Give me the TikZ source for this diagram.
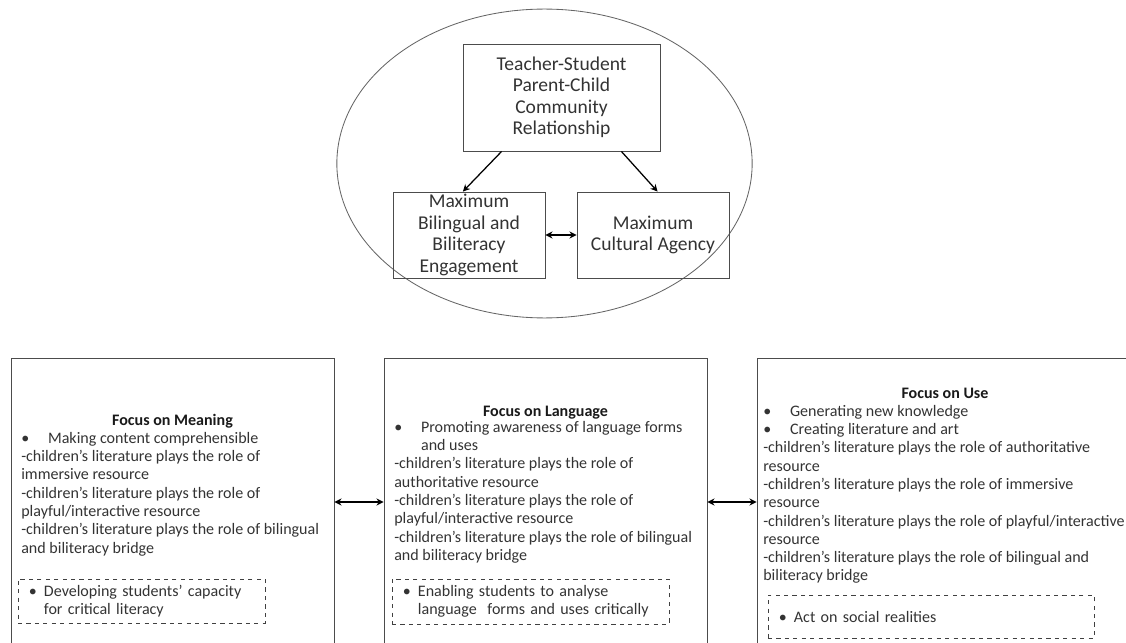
\documentclass[tikz,border=0pt]{standalone}
\usepackage{fontspec}
\setmainfont{Carlito}
\usetikzlibrary{arrows.meta}

\tikzset{
  box/.style={draw=black!70, line width=0.6pt, inner sep=0pt, align=center,
    font=\fontsize{13.9}{15.3}\selectfont, text=black!80},
  bigbox/.style={draw=black!70, line width=0.6pt, inner sep=0pt, minimum height=7.2cm},
  dbox/.style={draw=black!75, dashed, line width=0.6pt, inner sep=0pt, align=left,
    font=\fontsize{11.4}{13}\selectfont, text=black!80},
  head/.style={font=\fontsize{11.4}{13}\selectfont\bfseries, text=black!90, inner sep=0pt},
  body/.style={font=\fontsize{11.4}{13}\selectfont, align=left, inner sep=0pt,
    anchor=north west, text=black!80},
  link/.style={-{Stealth[length=5pt,width=5pt]}, line width=0.9pt},
  twoway/.style={{Stealth[length=5pt,width=5pt]}-{Stealth[length=5pt,width=5pt]}, line width=0.9pt},
}
\newcommand{\bul}[1]{\makebox[0.67cm][l]{\textbullet}#1}
\newcommand{\dbul}[1]{\makebox[0.375cm][l]{\textbullet}#1}
\newcommand{\bulgap}[1]{\hspace*{#1}}

\begin{document}
\begin{tikzpicture}[x=0.025cm, y=-0.025cm]
  \useasboundingbox (0,0) rectangle (1126,643);

  % upper part
  \draw[draw=black!60, line width=0.6pt] (544.5,163.5) ellipse [x radius=5.19cm, y radius=3.86cm];
  \node[box, minimum width=4.925cm, minimum height=2.675cm] (rel) at (561.5,97.5)
    {Teacher-Student\\Parent-Child\\Community\\Relationship};
  \node[box, minimum width=3.8cm, minimum height=2.15cm] (bil) at (469,235)
    {Maximum\\Bilingual and\\Biliteracy\\Engagement};
  \node[box, minimum width=3.8cm, minimum height=2.15cm] (cult) at (653,235)
    {Maximum\\Cultural Agency};
  \draw[link] (rel.222) -- (bil.98);
  \draw[link] (rel.318) -- (cult.84);
  \draw[twoway] (bil) -- (cult);

  % lower part
  \node[bigbox, minimum width=8.075cm] (meaning) at (172.5,502) {};
  \node[bigbox, minimum width=8.075cm] (language) at (545.5,502) {};
  \node[bigbox, minimum width=9.4cm] (use) at (945,502) {};
  \draw[twoway] (meaning) -- (language);
  \draw[twoway] (language) -- (use);

  \node[head] (meaninghead) at (172.5,421) {Focus on Meaning};
  \node[body] (meaningtext) at (21,432) {\bul{Making content comprehensible}\\
    -children’s literature plays the role of\\
    immersive resource\\
    -children’s literature plays the role of\\
    playful/interactive resource\\
    -children’s literature plays the role of bilingual\\
    and biliteracy bridge};

  \node[head] (languagehead) at (545.5,413) {Focus on Language};
  \node[body] (languagetext) at (394,421) {\bul{Promoting awareness of language forms}\\
    \bulgap{0.67cm}and uses\\
    -children’s literature plays the role of\\
    authoritative resource\\
    -children’s literature plays the role of\\
    playful/interactive resource\\
    -children’s literature plays the role of bilingual\\
    and biliteracy bridge};

  \node[head] (usehead) at (945,393) {Focus on Use};
  \node[body] (usetext) at (763,405) {\bul{Generating new knowledge}\\
    \bul{Creating literature and art}\\
    -children’s literature plays the role of authoritative\\
    resource\\
    -children’s literature plays the role of immersive\\
    resource\\
    -children’s literature plays the role of playful/interactive\\
    resource\\
    -children’s literature plays the role of bilingual and\\
    biliteracy bridge};

  \node[dbox, minimum width=6.175cm, minimum height=1.1cm, text width=5.625cm] (critical) at (141.5,601)
    {\dbul{Developing students’ capacity}\\\bulgap{0.375cm}for critical literacy};
  \node[dbox, minimum width=6.925cm, minimum height=1.125cm, text width=6.375cm] (analyse) at (530.5,601.5)
    {\dbul{Enabling students to analyse}\\\bulgap{0.375cm}language~ forms and uses critically};
  \node[dbox, minimum width=8.15cm, minimum height=1.075cm, text width=7.6cm] (act) at (931,616.5)
    {\dbul{Act on social realities}};
\end{tikzpicture}
\end{document}
